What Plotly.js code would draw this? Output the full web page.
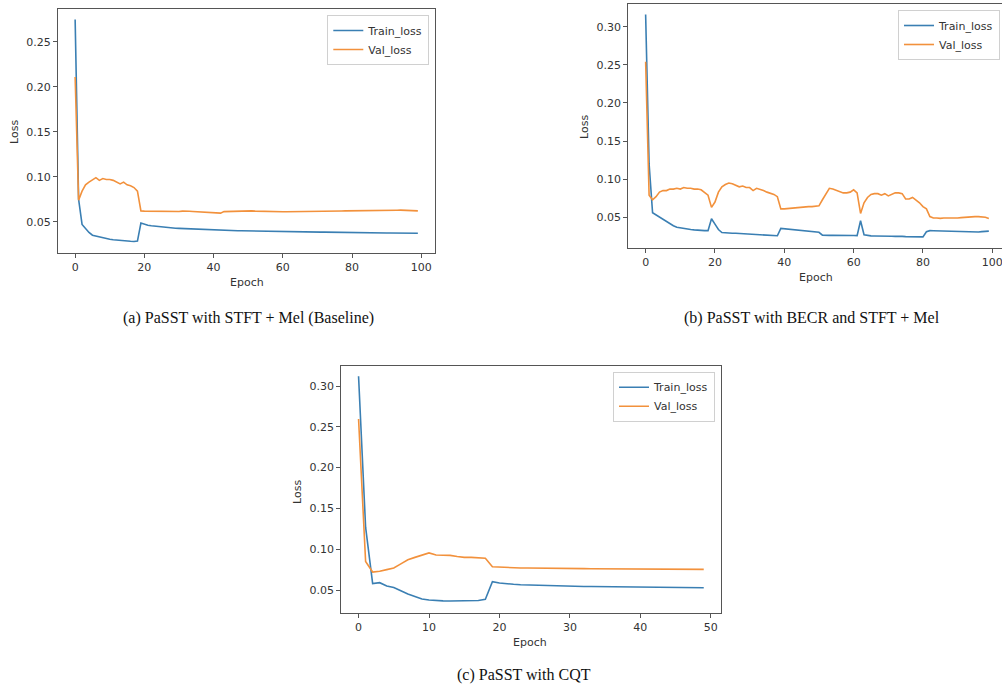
<!DOCTYPE html>
<html>
<head>
<meta charset="utf-8">
<script src="https://cdn.plot.ly/plotly-3.0.1.min.js"></script>
<style>
html,body{margin:0;padding:0;background:#fff;}
#chart{width:1002px;height:689px;}
</style>
</head>
<body>
<div id="chart"></div>
<script>
// ---------- data ----------
const seriesNames = ["Train_loss", "Val_loss"];
const captions = [
  "(a) PaSST with STFT + Mel (Baseline)",
  "(b) PaSST with BECR and STFT + Mel",
  "(c) PaSST with CQT"
];
const axisXTitle = "Epoch";
const axisYTitle = "Loss";
const ticksA = [0, 20, 40, 60, 80, 100];
const ticksC = [0, 10, 20, 30, 40, 50];
const yTicksA = [0.05, 0.10, 0.15, 0.20, 0.25];
const yTicksBC = [0.05, 0.10, 0.15, 0.20, 0.25, 0.30];

const trainA = [0.275,0.075,0.047,0.042,0.038,0.035,0.034,0.033,0.032,0.031,
0.0305,0.030,0.0295,0.029,0.0288,0.0284,0.0282,0.028,0.0285,0.0485,
0.047,0.046,0.0455,0.045,0.0445,0.044,0.0437,0.0434,0.0431,0.0428,
0.0426,0.0424,0.0423,0.0421,0.042,0.0418,0.0416,0.0414,0.0412,0.041,
0.0408,0.0407,0.0406,0.0405,0.0404,0.0402,0.0401,0.040,0.0399,0.0398,
0.0397,0.0397,0.0396,0.0396,0.0395,0.0395,0.0394,0.0393,0.0392,0.0391,
0.039,0.0389,0.0389,0.0388,0.0388,0.0387,0.0387,0.0386,0.0386,0.0385,
0.0385,0.0384,0.0384,0.0383,0.0383,0.0382,0.0382,0.0381,0.0381,0.038,
0.038,0.0379,0.0378,0.0378,0.0377,0.0377,0.0376,0.0376,0.0375,0.0375,
0.0374,0.0374,0.0373,0.0373,0.0373,0.0372,0.0372,0.0372,0.0371,0.0371];

const valA = [0.211,0.074,0.084,0.091,0.094,0.097,0.099,0.096,0.098,0.097,
0.097,0.096,0.094,0.092,0.094,0.091,0.090,0.088,0.084,0.062,
0.0618,0.0617,0.0616,0.0615,0.0615,0.0614,0.0613,0.0612,0.0612,0.0612,
0.0613,0.0618,0.062,0.0617,0.0614,0.0612,0.061,0.0608,0.0606,0.0604,
0.0602,0.060,0.0595,0.0612,0.0614,0.0613,0.0614,0.0615,0.0616,0.0617,
0.0618,0.062,0.0618,0.0616,0.0615,0.0614,0.0612,0.0611,0.061,0.061,
0.061,0.0611,0.0611,0.0612,0.0612,0.0611,0.0611,0.0612,0.0612,0.0611,
0.0611,0.0611,0.0612,0.0614,0.0616,0.0617,0.0618,0.0619,0.062,0.062,
0.0621,0.0621,0.0622,0.0622,0.0621,0.0621,0.062,0.0621,0.0622,0.0623,
0.0623,0.0624,0.0626,0.0628,0.0629,0.0628,0.0627,0.0625,0.0623,0.0621];

const trainB = [0.316,0.12,0.056,0.053,0.050,0.047,0.044,0.041,0.039,0.037,
0.036,0.035,0.0345,0.034,0.0335,0.033,0.0328,0.0325,0.0325,0.048,
0.041,0.034,0.030,0.0295,0.0295,0.029,0.029,0.0288,0.0285,0.0282,
0.028,0.0275,0.0272,0.027,0.0268,0.0265,0.0262,0.026,0.0258,0.0355,
0.035,0.034,0.0335,0.033,0.0325,0.032,0.0315,0.031,0.0308,0.0305,
0.0303,0.0265,0.026,0.0262,0.0263,0.0264,0.0264,0.0263,0.0262,0.0262,
0.0261,0.026,0.0455,0.027,0.0258,0.0256,0.0255,0.0256,0.0255,0.0254,
0.0253,0.0252,0.025,0.0252,0.0249,0.0246,0.0245,0.0243,0.0242,0.024,
0.0243,0.031,0.0325,0.0324,0.0322,0.032,0.0318,0.0317,0.0315,0.0313,
0.031,0.0308,0.0307,0.0306,0.0306,0.0305,0.0306,0.0312,0.032,0.0318];

const valB = [0.254,0.079,0.073,0.077,0.083,0.085,0.085,0.087,0.087,0.088,
0.087,0.089,0.088,0.088,0.087,0.087,0.086,0.083,0.079,0.063,
0.070,0.083,0.090,0.093,0.095,0.094,0.092,0.090,0.091,0.089,
0.089,0.085,0.088,0.087,0.085,0.083,0.082,0.080,0.077,0.061,
0.061,0.0615,0.062,0.0625,0.063,0.0635,0.064,0.064,0.064,0.0645,
0.065,0.073,0.081,0.088,0.087,0.085,0.083,0.082,0.082,0.083,
0.086,0.082,0.055,0.069,0.076,0.080,0.081,0.081,0.079,0.081,
0.078,0.080,0.082,0.082,0.081,0.074,0.074,0.076,0.073,0.069,
0.064,0.061,0.051,0.049,0.049,0.0485,0.049,0.0488,0.0488,0.0487,
0.049,0.0495,0.050,0.0502,0.0505,0.0508,0.0508,0.0508,0.050,0.0485];

const trainC = [0.312,0.127,0.058,0.059,0.055,0.053,0.049,0.045,0.042,0.039,
0.0378,0.037,0.0367,0.0365,0.0366,0.0367,0.0367,0.0372,0.0385,0.0602,
0.0585,0.0575,0.057,0.0565,0.0562,0.0558,0.0553,0.055,0.0548,0.0547,
0.0546,0.0544,0.0543,0.0543,0.0542,0.0541,0.0541,0.054,0.054,0.0539,
0.0538,0.0537,0.0536,0.0534,0.0532,0.053,0.0529,0.0529,0.0528,0.0528];

const valC = [0.2595,0.085,0.072,0.073,0.075,0.077,0.082,0.087,0.090,0.093,
0.0955,0.093,0.093,0.0925,0.091,0.090,0.090,0.0895,0.089,0.0785,
0.078,0.0775,0.077,0.077,0.077,0.077,0.0768,0.0768,0.0765,0.0765,
0.0763,0.0762,0.0762,0.076,0.076,0.076,0.0762,0.0761,0.076,0.0758,
0.0757,0.0756,0.0755,0.0755,0.0755,0.0754,0.0754,0.0754,0.0753,0.0753];

// ---------- build ----------
const W = 1002, H = 689;
const BLUE = "#3a7fb3", ORANGE = "#f2913c";
const FONT = "DejaVu Sans, sans-serif";
const epochs = n => Array.from({length: n}, (_, i) => i);

function tr(y, name, color, xa, ya, leg) {
  return {x: epochs(y.length), y: y, name: name, type: "scatter", mode: "lines",
    line: {color: color, width: 1.6}, xaxis: xa, yaxis: ya, legend: leg, hoverinfo: "skip"};
}
const traces = [
  tr(trainA, seriesNames[0], BLUE, "x", "y", "legend"),
  tr(valA, seriesNames[1], ORANGE, "x", "y", "legend"),
  tr(trainB, seriesNames[0], BLUE, "x2", "y2", "legend2"),
  tr(valB, seriesNames[1], ORANGE, "x2", "y2", "legend2"),
  tr(trainC, seriesNames[0], BLUE, "x3", "y3", "legend3"),
  tr(valC, seriesNames[1], ORANGE, "x3", "y3", "legend3")
];

const px = v => v / W;
const py = v => 1 - v / H;

function xax(dom, range, ticks, anchor) {
  return {domain: dom, range: range, anchor: anchor, tickvals: ticks,
    ticktext: ticks.map(String), showgrid: false, zeroline: false,
    showline: true, mirror: true, linecolor: "#555", linewidth: 1.2,
    ticks: "outside", ticklen: 4, tickcolor: "#555", tickwidth: 1,
    ticklabeloverflow: "allow",
    tickfont: {family: FONT, size: 11, color: "#333"}, fixedrange: true};
}
function yax(dom, range, ticks, anchor) {
  return {domain: dom, range: range, anchor: anchor, tickvals: ticks,
    ticktext: ticks.map(v => v.toFixed(2)), showgrid: false, zeroline: false,
    showline: true, mirror: true, linecolor: "#555", linewidth: 1.2,
    ticks: "outside", ticklen: 4, tickcolor: "#555", tickwidth: 1,
    tickfont: {family: FONT, size: 11, color: "#333"}, fixedrange: true};
}
function leg(xRight, yTop) {
  return {x: px(xRight), y: py(yTop), xanchor: "right", yanchor: "top",
    bgcolor: "rgba(255,255,255,0.8)", bordercolor: "#d0d0d0", borderwidth: 1,
    font: {family: FONT, size: 11, color: "#333"}, itemclick: false, itemdoubleclick: false};
}

const annots = [];
function axTitle(text, x, y, rot) {
  annots.push({text: text, x: px(x), y: py(y), xref: "paper", yref: "paper",
    xanchor: "center", yanchor: "middle", showarrow: false, textangle: rot,
    font: {family: FONT, size: 11, color: "#333"}});
}
axTitle(axisXTitle, 246.5, 282, 0);
axTitle(axisYTitle, 14, 132, -90);
axTitle(axisXTitle, 816, 277, 0);
axTitle(axisYTitle, 584, 127, -90);
axTitle(axisXTitle, 530, 642, 0);
axTitle(axisYTitle, 297, 492, -90);

function caption(text, x, y) {
  annots.push({text: text, x: px(x), y: py(y), xref: "paper", yref: "paper",
    xanchor: "center", yanchor: "middle", showarrow: false,
    font: {family: "Liberation Serif, Times New Roman, serif", size: 16, color: "#111"}});
}
caption(captions[0], 248.5, 318);
caption(captions[1], 812, 318);
caption(captions[2], 524, 675);

const layout = {
  width: W, height: H, margin: {l: 0, r: 0, t: 0, b: 0},
  paper_bgcolor: "#fff", plot_bgcolor: "#fff", showlegend: true,
  xaxis: xax([px(58), px(435)], [-4.95, 103.95], ticksA, "y"),
  yaxis: yax([py(253), py(9)], [0.0152, 0.2866], yTicksA, "x"),
  xaxis2: xax([px(628.3), 1], [-5.0, 102.8], ticksA, "y2"),
  yaxis2: yax([py(248), py(4)], [0.0097, 0.3298], yTicksBC, "x2"),
  xaxis3: xax([px(341.3), px(721)], [-2.45, 51.45], ticksC, "y3"),
  yaxis3: yax([py(612.7), py(365.7)], [0.0222, 0.3249], yTicksBC, "x3"),
  legend: leg(429.3, 15),
  legend2: leg(1000, 10),
  legend3: leg(715, 371.7),
  annotations: annots
};

Plotly.newPlot("chart", traces, layout, {displayModeBar: false, staticPlot: false});
</script>
</body>
</html>
